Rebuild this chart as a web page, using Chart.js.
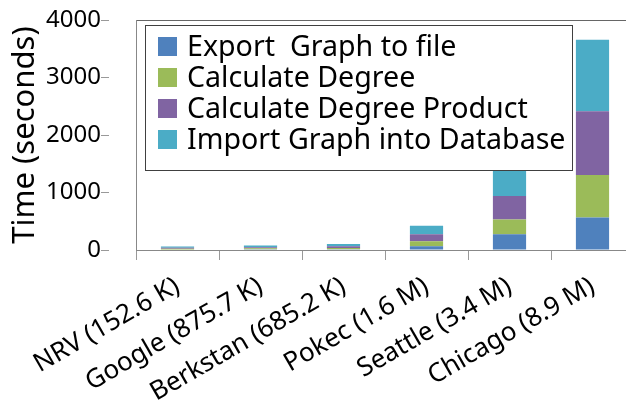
<!DOCTYPE html>
<html lang="en">
<head>
    <meta charset="UTF-8">
    <title>Graph processing time</title>
    <script src="https://cdn.jsdelivr.net/npm/chart.js"></script>
    <style>
        body { margin: 0; overflow: hidden; background: #fff; }
        #wrap { width: 640px; height: 403px; position: relative; }
      </style>
</head>
<body>
    <div id="wrap"><canvas id="timeChart"></canvas></div>

    <script>
        const graphs = ['NRV (152.6 K)', 'Google (875.7 K)', 'Berkstan (685.2 K)', 'Pokec (1.6 M)', 'Seattle (3.4 M)', 'Chicago (8.9 M)'];
        const exportTimes = [10, 15, 15, 66, 276, 567];
        const degreeTimes = [12, 15, 20, 88, 256, 738];
        const productTimes = [15, 20, 30, 122, 407, 1107];
        const importTimes = [23, 30, 40, 146, 480, 1244];
        const yTicks = [0, 1000, 2000, 3000, 4000];

        const FONT = '"Noto Sans", "DejaVu Sans", sans-serif';

        // legend drawn as a white box sitting inside the plot, over the bars
        const boxLegend = {
            id: 'boxLegend',
            afterDatasetsDraw(chart) {
                const ctx = chart.ctx;
                const area = chart.chartArea;
                const x = area.left + 9, y = area.top + 5;
                const w = 427, h = 145;
                ctx.save();
                ctx.fillStyle = '#fff';
                ctx.fillRect(x, y, w, h);
                ctx.strokeStyle = '#404040';
                ctx.lineWidth = 1;
                ctx.strokeRect(x + 0.5, y + 0.5, w, h);
                ctx.font = '28.6px ' + FONT;
                ctx.textBaseline = 'middle';
                chart.data.datasets.forEach((ds, i) => {
                    const rowY = y + 22 + i * 31;
                    ctx.fillStyle = ds.backgroundColor;
                    ctx.fillRect(x + 13, rowY - 10, 19, 19);
                    ctx.fillStyle = '#000';
                    ctx.fillText(ds.label, x + 42, rowY + 1);
                });
                ctx.restore();
            }
        };

        new Chart(document.getElementById('timeChart'), {
            type: 'bar',
            data: {
                labels: graphs,
                datasets: [
                    { label: 'Export  Graph to file', data: exportTimes, backgroundColor: '#4F81BD' },
                    { label: 'Calculate Degree', data: degreeTimes, backgroundColor: '#9BBB59' },
                    { label: 'Calculate Degree Product', data: productTimes, backgroundColor: '#8064A2' },
                    { label: 'Import Graph into Database', data: importTimes, backgroundColor: '#4BACC6' }
                ]
            },
            options: {
                responsive: true,
                maintainAspectRatio: false,
                animation: false,
                layout: { padding: { top: 20, right: 6, left: 0, bottom: 0 } },
                datasets: { bar: { barPercentage: 0.4, categoryPercentage: 1 } },
                plugins: {
                    legend: { display: false },
                    tooltip: { enabled: false }
                },
                scales: {
                    x: {
                        stacked: true,
                        grid: { drawOnChartArea: false, color: 'rgba(0,0,0,0)', tickColor: '#999', tickLength: 10 },
                        border: { color: '#888' },
                        ticks: {
                            color: '#000',
                            font: { family: FONT, size: 26 },
                            minRotation: 30, maxRotation: 30,
                            padding: 11
                        },
                        afterFit(scale) { scale.height = 153; }
                    },
                    y: {
                        stacked: true,
                        min: 0, max: 4000,
                        afterBuildTicks(scale) { scale.ticks = yTicks.map(v => ({ value: v })); },
                        grid: {
                            color: ctx => ctx.tick && ctx.tick.value === 4000 ? '#666' : 'rgba(0,0,0,0)',
                            tickColor: '#999',
                            // long tick slot keeps labels away from the axis, dash shows only 8px of it
                            tickLength: 35,
                            tickBorderDash: [8, 100]
                        },
                        border: { color: '#888' },
                        ticks: {
                            color: '#000',
                            font: { family: FONT, size: 24 },
                            padding: 0,
                            callback: v => String(v)
                        },
                        title: {
                            display: true,
                            text: 'Time (seconds)',
                            color: '#000',
                            font: { family: FONT, size: 31 },
                            padding: { top: 7, bottom: 0 }
                        },
                        afterFit(scale) { scale.width = 136; }
                    }
                }
            },
            plugins: [boxLegend]
        });
    </script>
</body>
</html>
